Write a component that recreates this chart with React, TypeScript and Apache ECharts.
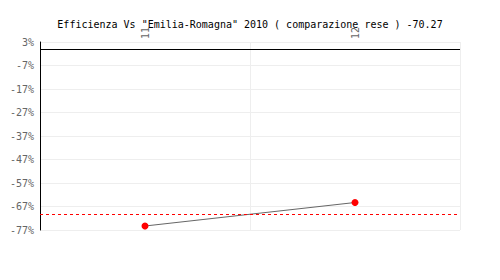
import React, { useEffect, useRef } from "react";
import * as echarts from "echarts";

const titleText = 'Efficienza Vs "Emilia-Romagna" 2010 ( comparazione rese ) -70.27';
const categories = ["11", "12"];
const values = [-75.3, -65.3];
const referenceValue = -70.27;
const yMin = -77;
const yMax = 3;
const yInterval = 10;

const FONT = "DejaVu Sans Mono";

export default function App() {
  const ref = useRef<HTMLDivElement>(null);
  useEffect(() => {
    if (!ref.current) return;
    const chart = echarts.init(ref.current, undefined, { renderer: "svg" });
    chart.setOption({
      animation: false,
      backgroundColor: "#ffffff",
      title: {
        text: titleText,
        left: "center",
        top: 14,
        textStyle: { fontFamily: FONT, fontSize: 10, fontWeight: "normal", color: "#000" },
      },
      grid: { left: 40, right: 40, top: 42, bottom: 50, containLabel: false, outerBoundsMode: "none" },
      xAxis: {
        type: "category",
        data: categories,
        position: "top",
        boundaryGap: true,
        axisLine: { show: false },
        axisTick: { show: false },
        axisLabel: {
          rotate: 90,
          margin: 3,
          color: "#666",
          fontFamily: FONT,
          fontSize: 10,
        },
        splitLine: { show: true, lineStyle: { color: "#eeeeee", width: 1 } },
      },
      yAxis: {
        type: "value",
        min: yMin,
        max: yMax,
        interval: yInterval,
        axisLine: { show: true, onZero: false, lineStyle: { color: "#000", width: 1 } },
        axisTick: { show: false },
        axisLabel: {
          formatter: (v: number) => `${Math.round(v)}%`,
          color: "#666",
          fontFamily: FONT,
          fontSize: 10,
          margin: 6,
        },
        splitLine: { show: true, lineStyle: { color: "#eeeeee", width: 1 } },
      },
      series: [
        {
          type: "line",
          data: values,
          symbol: "circle",
          symbolSize: 7,
          itemStyle: { color: "#ff0000" },
          lineStyle: { color: "#666666", width: 1 },
          markLine: {
            silent: true,
            symbol: "none",
            label: { show: false },
            data: [
              { yAxis: 0, lineStyle: { color: "#000000", type: "solid", width: 1 } },
              { yAxis: referenceValue, lineStyle: { color: "#ff0000", type: [3, 3], width: 1 } },
            ],
          },
        },
      ],
    });
    return () => chart.dispose();
  }, []);
  return <div ref={ref} style={{ position: "fixed", left: 0, top: 0, width: 500, height: 280 }} />;
}
